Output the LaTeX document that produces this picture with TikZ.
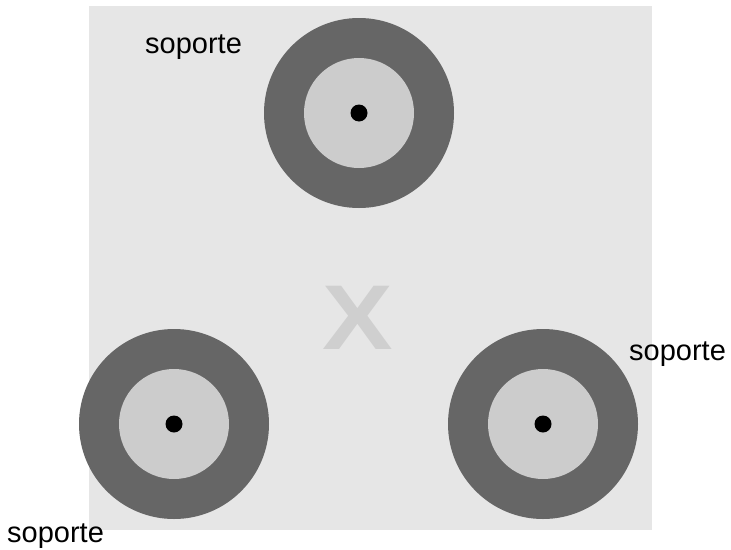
\documentclass[tikz,border=0pt]{standalone}
\usepackage{fontspec}
\setmainfont{Liberation Sans}
\usepackage{tikz}
\usetikzlibrary{positioning}

\definecolor{fondo}{HTML}{E6E6E6}
\definecolor{anillo}{HTML}{666666}
\definecolor{nucleo}{HTML}{CCCCCC}
\definecolor{marca}{HTML}{CFCFCF}

\begin{document}
\begin{tikzpicture}[x=1pt, y=-1pt,
    outer/.style = {circle, fill=anillo, minimum size=190pt, inner sep=0pt},
    core/.style = {circle, fill=nucleo, minimum size=110pt, inner sep=0pt},
    pin/.style = {circle, fill=black, minimum size=17pt, inner sep=0pt},
    rotulo/.style = {font=\fontsize{29}{34}\selectfont, anchor=base west, inner sep=0pt}]
    \useasboundingbox (0,0) rectangle (731,549);
    \fill[fondo] (89,6) rectangle (652,530);
    % three supports
    \node[outer] (s1) at (359,113) {};
    \node[core] (c1) at (s1) {};
    \node[pin] (p1) at (s1) {};
    \node[outer] (s2) at (174,424) {};
    \node[core] (c2) at (s2) {};
    \node[pin] (p2) at (s2) {};
    \node[outer] (s3) at (543,424) {};
    \node[core] (c3) at (s3) {};
    \node[pin] (p3) at (s3) {};
    % centre mark
    \node[font=\fontsize{92}{100}\selectfont\bfseries, text=marca, xscale=1.15, inner sep=0pt] (x) at (358,318) {X};
    % labels
    \node[rotulo] (l1) at (145,53) {soporte};
    \node[rotulo] (l2) at (629,360) {soporte};
    \node[rotulo] (l3) at (7,542) {soporte};
\end{tikzpicture}
\end{document}
